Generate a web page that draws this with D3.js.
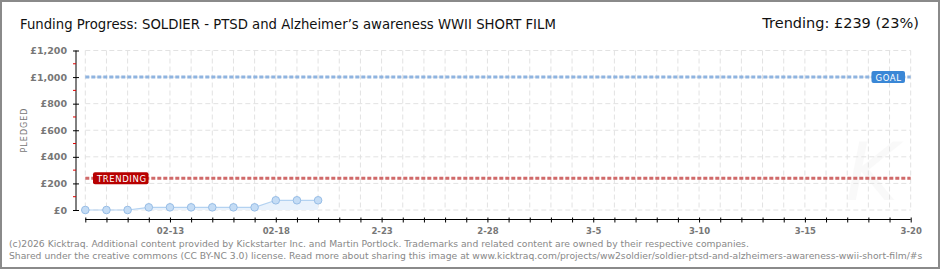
<!DOCTYPE html>
<html><head><meta charset="utf-8">
<script src="https://cdn.jsdelivr.net/npm/d3@7"></script>
<style>
html,body{margin:0;padding:0;background:#fff;}
svg{display:block;}
text{font-family:"DejaVu Sans",sans-serif;}
</style></head>
<body>
<script>
const titleText = "Funding Progress: SOLDIER - PTSD and Alzheimer\u2019s awareness WWII SHORT FILM";
const trendingText = "Trending: \u00a3239 (23%)";
const footer1 = "(c)2026 Kicktraq. Additional content provided by Kickstarter Inc. and Martin Portlock. Trademarks and related content are owned by their respective companies.";
const footer2 = "Shared under the creative commons (CC BY-NC 3.0) license. Read more about sharing this image at www.kicktraq.com/projects/ww2soldier/soldier-ptsd-and-alzheimers-awareness-wwii-short-film/#s";

const dates = ["2026-02-09","2026-02-10","2026-02-11","2026-02-12","2026-02-13","2026-02-14","2026-02-15","2026-02-16","2026-02-17","2026-02-18","2026-02-19","2026-02-20"];
const pledged = [0,0,0,20,20,20,20,20,20,73,73,73];
const goalValue = 1000;
const trendingValue = 239;
const yTicks = [0,200,400,600,800,1000,1200];
const yMinorTicks = [100,300,500,700,900,1100];
const xTickDates = ["2026-02-13","2026-02-18","2026-02-23","2026-02-28","2026-03-05","2026-03-10","2026-03-15","2026-03-20"];
const xTickLabels = ["02-13","02-18","2-23","2-28","3-5","3-10","3-15","3-20"];
const xDomain = ["2026-02-09","2026-03-20"];

const W = 940, H = 270;
const svg = d3.select("body").append("svg").attr("width", W).attr("height", H);
const parse = d3.utcParse("%Y-%m-%d");

const x = d3.scaleUtc().domain(xDomain.map(parse)).range([85.3, 910.7]);
const y = d3.scaleLinear().domain([0, 1200]).range([210, 50.5]);

// border
svg.append("rect").attr("x",1).attr("y",1).attr("width",W-2).attr("height",H-3)
  .attr("fill","#fff").attr("stroke","#8a8a8a").attr("stroke-width",2);

// fit helper: scale font so natural width equals target
function fitText(sel, target, baseSize){
  sel.attr("font-size", baseSize);
  const w = sel.node().getComputedTextLength();
  sel.attr("font-size", (baseSize * target / w).toFixed(2));
  return sel;
}

// title
fitText(svg.append("text").attr("x",20).attr("y",29).attr("fill","#111").text(titleText), 536, 14.5);
svg.append("text").attr("x",919).attr("y",28).attr("font-size",14.5).attr("fill","#111")
  .attr("text-anchor","end").text(trendingText);

// watermark
svg.append("text").attr("x",872).attr("y",200).attr("font-size",80).attr("font-style","italic")
  .attr("font-family","DejaVu Serif").attr("text-anchor","middle").attr("fill","#000").attr("opacity",0.018).text("K");

// grid
const days = d3.utcDay.range(x.domain()[0], d3.utcDay.offset(x.domain()[1],1));
svg.append("g").selectAll("line").data(days).join("line")
  .attr("x1",d=>x(d)).attr("x2",d=>x(d)).attr("y1",y(1200)).attr("y2",y(0))
  .attr("stroke","#e2e2e2").attr("stroke-dasharray","5,3");
svg.append("g").selectAll("line").data(yTicks).join("line")
  .attr("x1",x.range()[0]).attr("x2",x.range()[1]).attr("y1",d=>y(d)).attr("y2",d=>y(d))
  .attr("stroke","#e2e2e2").attr("stroke-dasharray","5,3");

// y axis
const yAxis = svg.append("g").attr("transform","translate(76,0)")
  .call(d3.axisLeft(y).tickValues(yTicks).tickSize(3).tickPadding(6)
    .tickFormat(d=>"\u00a3"+d3.format(",")(d)));
yAxis.select(".domain").attr("stroke","#000").attr("d","M0,50.5V211");
yAxis.selectAll(".tick line").attr("stroke","#000").attr("x1",3).attr("x2",-3);
yAxis.selectAll(".tick text").attr("fill","#777").attr("font-size",9.5).attr("font-weight","bold")
  .attr("font-family","DejaVu Sans Condensed, DejaVu Sans");
svg.append("g").selectAll("line").data(yMinorTicks).join("line")
  .attr("x1",73).attr("x2",76).attr("y1",d=>y(d)).attr("y2",d=>y(d)).attr("stroke","#e00000");
svg.append("text").attr("transform","translate(27,130) rotate(-90)").attr("text-anchor","middle")
  .attr("font-size",8).attr("fill","#777").attr("letter-spacing",1).text("PLEDGED");

// x axis
const labelMap = new Map(xTickDates.map((d,i)=>[+parse(d), xTickLabels[i]]));
const xAxis = svg.append("g").attr("transform","translate(0,219.5)")
  .call(d3.axisBottom(x).tickValues(days).tickSize(3).tickPadding(5)
    .tickFormat(d=>labelMap.get(+d) || ""));
xAxis.select(".domain").attr("stroke","#000").attr("d",`M${x.range()[0]},0H${x.range()[1]}`);
xAxis.selectAll(".tick line").attr("stroke","#000").attr("y1",-2).attr("y2",3);
xAxis.selectAll(".tick text").attr("fill","#777").attr("font-size",8.5).attr("font-weight","bold")
  .attr("font-family","DejaVu Sans Condensed, DejaVu Sans");

// goal & trending lines
svg.append("line").attr("x1",x.range()[0]).attr("x2",x.range()[1]).attr("y1",y(goalValue)).attr("y2",y(goalValue))
  .attr("stroke","#8fb4e0").attr("stroke-width",3).attr("stroke-dasharray","4,2");
svg.append("line").attr("x1",x.range()[0]).attr("x2",x.range()[1]).attr("y1",y(trendingValue)).attr("y2",y(trendingValue))
  .attr("stroke","#d06a6a").attr("stroke-width",3).attr("stroke-dasharray","4,2");

// data
const pts = dates.map((d,i)=>({date:parse(d), v:pledged[i]}));
svg.append("path").datum(pts).attr("fill","#e9f2fc")
  .attr("d", d3.area().x(d=>x(d.date)).y0(y(0)).y1(d=>y(d.v)));
svg.append("path").datum(pts).attr("fill","none").attr("stroke","#b3d2f1").attr("stroke-width",1.2)
  .attr("d", d3.line().x(d=>x(d.date)).y(d=>y(d.v)));
svg.append("g").selectAll("circle").data(pts).join("circle")
  .attr("cx",d=>x(d.date)).attr("cy",d=>y(d.v)).attr("r",3.8)
  .attr("fill","#c4dcf5").attr("stroke","#97bde6").attr("stroke-width",1);

// labels
function badge(cx0, yv, w, color, txt){
  const yc = y(yv);
  svg.append("rect").attr("x",cx0).attr("y",yc-6).attr("width",w).attr("height",12).attr("rx",2)
    .attr("fill",color);
  svg.append("text").attr("x",cx0+4).attr("y",yc+3.5).attr("font-size",8.5).attr("fill","#fff")
    .attr("font-family","DejaVu Sans Condensed, DejaVu Sans").attr("letter-spacing",0.6).text(txt);
}
badge(871.5, goalValue, 33.5, "#3a87d6", "GOAL");
badge(93, trendingValue, 55.5, "#b70000", "TRENDING");

// footer
fitText(svg.append("text").attr("x",9).attr("y",247).attr("fill","#888")
  .attr("font-family","DejaVu Sans Condensed, DejaVu Sans").text(footer1), 741, 10);
fitText(svg.append("text").attr("x",9).attr("y",259).attr("fill","#888")
  .attr("font-family","DejaVu Sans Condensed, DejaVu Sans").text(footer2), 914, 10);
</script>
</body></html>
